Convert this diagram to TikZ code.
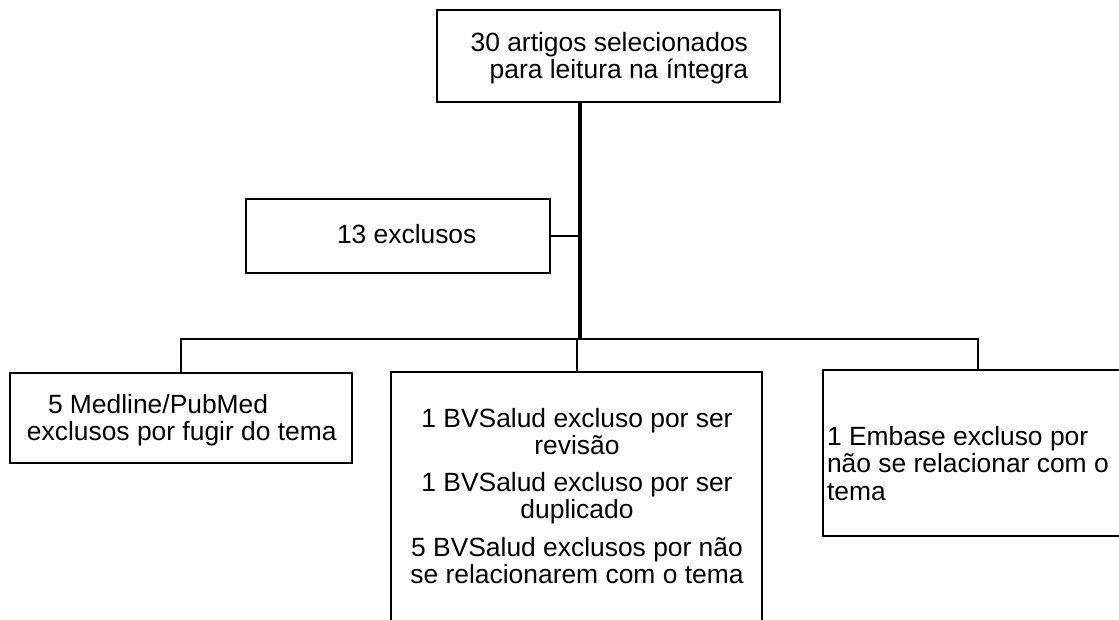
\documentclass[tikz,border=0pt]{standalone}
\usepackage{fontspec}
\setmainfont{Liberation Sans}
\begin{document}
\begin{tikzpicture}[x=1pt,y=-1pt,
  box/.style={draw, line width=2.2pt, inner sep=0pt, outer sep=0pt, anchor=north west},
  conn/.style={line width=2.2pt},
  trunk/.style={line width=3.2pt},
  txt/.style={inner sep=0pt, outer sep=0pt, font=\fontsize{26.4pt}{27pt}\selectfont}]
\useasboundingbox (0,0) rectangle (1119,619);
\clip (0,0) rectangle (1119,619);
% boxes
\node[box, minimum width=343pt, minimum height=92pt] (top) at (437,10) {};
\node[box, minimum width=304pt, minimum height=74pt] (ex) at (246,199) {};
\node[box, minimum width=342pt, minimum height=90pt] (left) at (10,373) {};
\node[box, minimum width=371pt, minimum height=280pt] (mid) at (391,372) {};
\node[box, minimum width=320pt, minimum height=166pt] (right) at (823,370) {};
% texts (base anchor = baseline of the last line)
\node[txt, anchor=base east, align=right] (ttop) at (748,78) {30 artigos selecionados\\para leitura na íntegra};
\node[txt, anchor=base west] (tex) at (337,243) {13 exclusos};
\node[txt, anchor=base west, align=left] (tleft) at (27,440) {\hspace*{21pt}5 Medline/PubMed\\exclusos por fugir do tema};
\node[txt, anchor=base, align=center] (tmid) at (577,583) {1 BVSalud excluso por ser\\revisão\\[10pt]1 BVSalud excluso por ser\\duplicado\\[11pt]5 BVSalud exclusos por não\\se relacionarem com o tema};
\node[txt, anchor=base west, align=left, font=\fontsize{26.4pt}{27.5pt}\selectfont] (tright) at (827,500) {1 Embase excluso por\\não se relacionar com o\\tema};
% connectors
\coordinate (tx) at (580,339);
\coordinate (mdrop) at (577,339);
\coordinate (rdrop) at (978,339);
\draw[trunk] (top.south -| tx) -- (tx);
\draw[conn] (ex.east) -- (ex.east -| tx);
\draw[conn] (left.north) |- (rdrop) -- (rdrop |- right.north);
\draw[conn] (mdrop) -- (mdrop |- mid.north);
\end{tikzpicture}
\end{document}
